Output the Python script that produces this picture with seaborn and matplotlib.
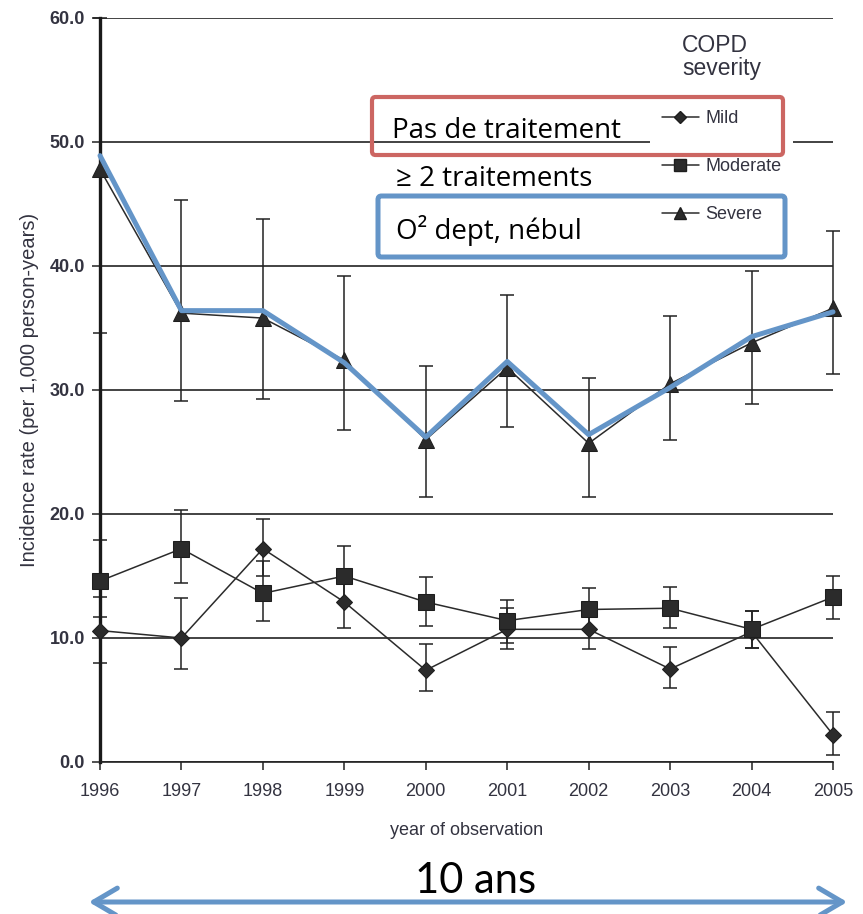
import numpy as np
import pandas as pd
import seaborn as sns
import matplotlib
matplotlib.use("Agg")
import matplotlib.pyplot as plt
from matplotlib.lines import Line2D
from matplotlib.patches import FancyBboxPatch, FancyArrowPatch

# ---------------- data ----------------
years = [1996, 1997, 1998, 1999, 2000, 2001, 2002, 2003, 2004, 2005]
severity_levels = ["Mild", "Moderate", "Severe"]

mild = [10.6, 10.0, 17.2, 12.9, 7.4, 10.7, 10.7, 7.5, 10.5, 2.2]
mild_lo = [8.0, 7.5, 15.0, 10.8, 5.7, 9.1, 9.1, 6.0, 9.2, 0.6]
mild_hi = [13.3, 13.2, 19.6, 15.0, 9.5, 12.4, 12.3, 9.3, 12.2, 4.0]

moderate = [14.6, 17.2, 13.6, 15.0, 12.9, 11.4, 12.3, 12.4, 10.7, 13.3]
moderate_lo = [11.7, 14.4, 11.4, 12.9, 11.0, 9.6, 10.7, 10.8, 9.2, 11.5]
moderate_hi = [17.9, 20.3, 16.2, 17.4, 14.9, 13.1, 14.0, 14.1, 12.2, 15.0]

severe = [47.8, 36.2, 35.8, 32.4, 26.0, 31.8, 25.7, 30.5, 33.8, 36.6]
severe_lo = [34.6, 29.1, 29.3, 26.8, 21.4, 27.0, 21.4, 26.0, 28.9, 31.3]
severe_hi = [60.0, 45.3, 43.8, 39.2, 31.9, 37.7, 31.0, 36.0, 39.6, 42.8]

# hand-drawn blue highlight over the severe curve
highlight = [48.9, 36.4, 36.4, 32.2, 26.2, 32.3, 26.4, 30.2, 34.3, 36.3]

yticks = [0, 10, 20, 30, 40, 50, 60]
ytick_labels = ["0.0", "10.0", "20.0", "30.0", "40.0", "50.0", "60.0"]
xtick_labels = [str(y) for y in years]

annot_red = "Pas de traitement"
annot_mid = "≥ 2 traitements"
annot_blue = "O² dept, nébul"
span_label = "10 ans"

# ---------------- style ----------------
sns.set_style("white")
plt.rcParams["font.family"] = ["Liberation Sans", "DejaVu Sans"]

INK = "#222222"
TXT = "#333340"
BLUE = "#6495C8"
RED = "#CC6662"
ANNOT_FONT = ["Open Sans", "DejaVu Sans"]

W, H = 863, 914
fig = plt.figure(figsize=(W / 100, H / 100), dpi=100)
ax = fig.add_axes([100 / W, 152 / H, 733 / W, 744 / H])

frames = []
for name, vals in zip(severity_levels, [mild, moderate, severe]):
    frames.append(pd.DataFrame({"year": years, "rate": vals, "severity": name}))
df = pd.concat(frames, ignore_index=True)

markers = {"Mild": "D", "Moderate": "s", "Severe": "^"}
sns.lineplot(data=df, x="year", y="rate", hue="severity", style="severity",
             hue_order=severity_levels, style_order=severity_levels,
             markers=markers, dashes=False,
             palette={k: "#2b2b2b" for k in severity_levels},
             markersize=11.5, markeredgecolor="#1e1e1e", linewidth=1.1,
             errorbar=None, legend=False, ax=ax, clip_on=False, zorder=3)
for ln in ax.lines:
    if ln.get_marker() == "D":
        ln.set_markersize(8)

for vals, lo, hi in [(mild, mild_lo, mild_hi),
                     (moderate, moderate_lo, moderate_hi),
                     (severe, severe_lo, severe_hi)]:
    v = np.array(vals)
    yerr = [v - np.array(lo), np.array(hi) - v]
    ax.errorbar(years, v, yerr=yerr, fmt="none", ecolor=INK, elinewidth=1.1,
                capsize=4.7, capthick=1.1, clip_on=False, zorder=2)

sns.lineplot(x=years, y=highlight, color=BLUE, linewidth=3.6, ax=ax,
             clip_on=False, zorder=4)

# axes
ax.set_xlim(1996, 2005)
ax.set_ylim(0, 60)
ax.set_yticks(yticks)
ax.set_yticklabels(ytick_labels)
ax.set_xticks(years)
ax.set_xticklabels(xtick_labels)
ax.yaxis.grid(True, color=INK, linewidth=1.2)
ax.xaxis.grid(False)
ax.set_axisbelow(True)
for s in ["top", "right"]:
    ax.spines[s].set_visible(False)
ax.spines["left"].set_linewidth(2.4)
ax.spines["left"].set_color("#1a1a1a")
ax.spines["bottom"].set_linewidth(1.2)
ax.spines["bottom"].set_color(INK)
ax.tick_params(axis="y", direction="out", length=5.8, width=1.1, color=INK,
               pad=5, labelsize=13, labelcolor=TXT, left=True)
ax.tick_params(axis="x", direction="out", length=5.8, width=1.1, color=INK,
               pad=9, labelsize=13, labelcolor=TXT, bottom=True)
for t in ax.get_yticklabels():
    t.set_fontweight("bold")

ax.set_ylabel("Incidence rate (per 1,000 person-years)", fontsize=14.5,
              color=TXT, labelpad=8)
ax.set_xlabel("year of observation", fontsize=13, color=TXT, labelpad=16)

# legend
handles = [Line2D([], [], color="#2b2b2b", lw=1.1, marker=markers[k],
                  markersize=(6 if k == "Mild" else 8), markeredgecolor="#1e1e1e")
           for k in severity_levels]
leg = ax.legend(handles, severity_levels, title="COPD\nseverity",
                loc="upper left", bbox_to_anchor=(650 / W, 1 - 22 / H),
                bbox_transform=fig.transFigure, frameon=True, fancybox=False,
                fontsize=13, title_fontsize=16.5, handlelength=2.05,
                handletextpad=0.35, labelspacing=1.7, borderpad=0.65,
                borderaxespad=0)
leg.get_frame().set_facecolor("white")
leg.get_frame().set_edgecolor("none")
leg.get_frame().set_alpha(1)
leg.get_title().set_linespacing(1.0)
leg.get_title().set_color(TXT)
for t in leg.get_texts():
    t.set_color(TXT)
leg.set_zorder(6)

# annotation boxes
def fig_box(x0, y0, x1, y1, color, lw):
    p = FancyBboxPatch((x0 / W, 1 - y1 / H), (x1 - x0) / W, (y1 - y0) / H,
                       boxstyle="round,pad=0,rounding_size=0.004",
                       transform=fig.transFigure, facecolor="none",
                       edgecolor=color, linewidth=lw, zorder=10)
    fig.add_artist(p)

fig_box(372, 97, 783, 155, RED, 3.0)
fig_box(378, 196, 785, 257, BLUE, 3.6)

fig.text(392 / W, 1 - 138 / H, annot_red, fontsize=20, family=ANNOT_FONT,
         color="black", va="baseline", ha="left", zorder=11)
fig.text(396 / W, 1 - 186 / H, annot_mid, fontsize=20, family=ANNOT_FONT,
         color="black", va="baseline", ha="left", zorder=11)
fig.text(396 / W, 1 - 239 / H, annot_blue, fontsize=20, family=ANNOT_FONT,
         color="black", va="baseline", ha="left", zorder=11)

fig.text(476 / W, 1 - 893 / H, span_label, fontsize=30, family=["Lato", "DejaVu Sans"],
         color="black", va="baseline", ha="center")

arrow = FancyArrowPatch((86 / W, 1 - 902 / H), (850 / W, 1 - 902 / H),
                        transform=fig.transFigure,
                        arrowstyle="<->,head_length=0.85,head_width=0.5",
                        mutation_scale=20, linewidth=3.6, color=BLUE,
                        capstyle="round", joinstyle="round")
fig.add_artist(arrow)

fig.savefig("out.png", dpi=100)
